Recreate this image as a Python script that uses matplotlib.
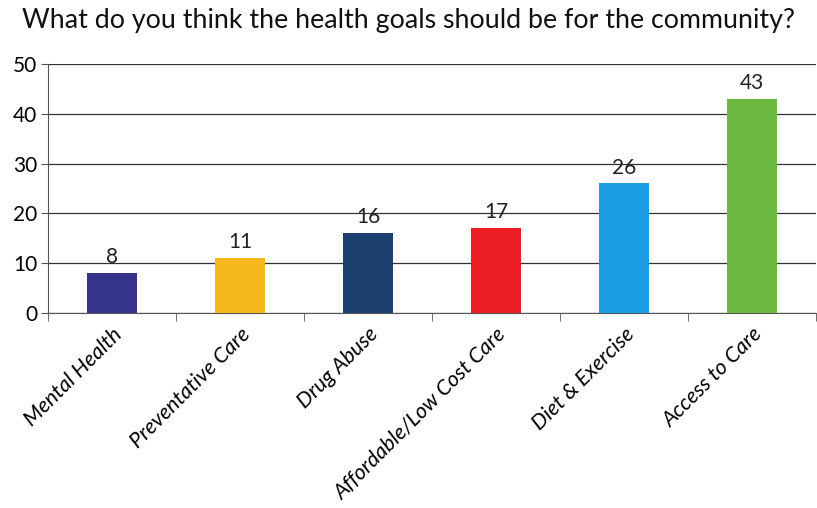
"""Bar chart of community health goals survey responses."""

import matplotlib.pyplot as plt
import numpy as np

categories = [
    "Mental Health",
    "Preventative Care",
    "Drug Abuse",
    "Affordable/Low Cost Care",
    "Diet & Exercise",
    "Access to Care",
]
counts = [8, 11, 16, 17, 26, 43]
bar_colors = ["#35338a", "#f6b81f", "#1d3f6e", "#ec1c24", "#1b9ce2", "#6db83f"]
y_ticks = [0, 10, 20, 30, 40, 50]
title = "What do you think the health goals should be for the community?"


def main() -> None:
    plt.rcParams["font.family"] = ["Lato", "DejaVu Sans"]

    fig = plt.figure(figsize=(8.17, 5.08), dpi=100)
    ax = fig.add_axes([0.059, 0.384, 0.94, 0.49])

    x = np.arange(len(categories))
    bars = ax.bar(x, counts, width=0.39, color=bar_colors, zorder=3)
    for rect, val in zip(bars, counts):
        ax.text(rect.get_x() + rect.get_width() / 2, val + 1.2, str(val),
                ha="center", va="bottom", fontsize=15, color="#222222")

    ax.set_xlim(-0.5, len(categories) - 0.5)
    ax.set_ylim(0, 50)
    ax.set_yticks(y_ticks)
    ax.tick_params(axis="y", labelsize=15, length=5, color="#555555", pad=3)
    ax.yaxis.grid(True, color="#333333", linewidth=0.9, zorder=0)

    ax.set_xticks(x)
    ax.set_xticklabels(categories, rotation=45, ha="right", rotation_mode="anchor",
                       fontsize=15.5, style="italic")
    ax.tick_params(axis="x", length=0, pad=8)
    ax.set_xticks(np.arange(-0.5, len(categories)), minor=True)
    ax.tick_params(axis="x", which="minor", length=6, color="#555555")

    for side in ["top", "right"]:
        ax.spines[side].set_visible(False)
    ax.spines["left"].set_color("#555555")
    ax.spines["bottom"].set_color("#555555")

    fig.suptitle(title, x=0.5, y=0.985, fontsize=19.3, color="#111111")

    fig.savefig("out.png", dpi=100)
    plt.close(fig)


if __name__ == "__main__":
    main()
